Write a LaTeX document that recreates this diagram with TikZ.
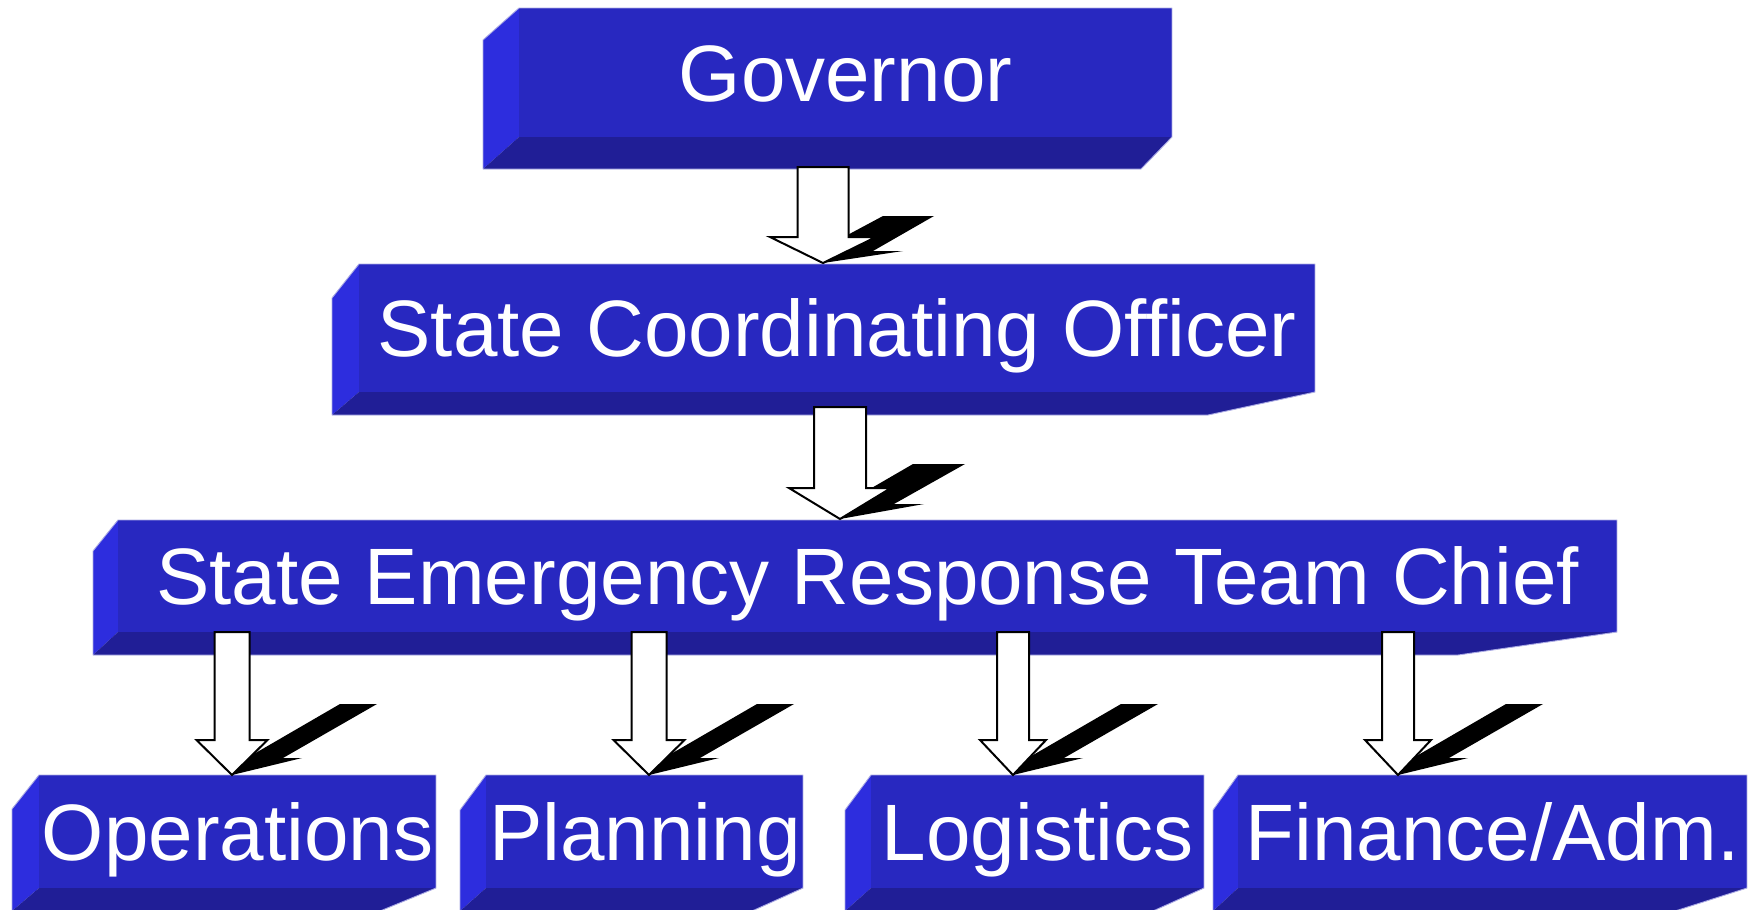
\documentclass[tikz,border=0pt]{standalone}
\usepackage{fontspec}
\setmainfont{Liberation Sans}
\definecolor{frontc}{RGB}{40,40,192}
\definecolor{leftc}{RGB}{45,45,222}
\definecolor{bottomc}{RGB}{32,30,150}
\definecolor{edgec}{RGB}{170,170,228}
% #1 L, #2 LF, #3 R, #4 T, #5 left-edge top, #6 front bottom, #7 bottom, #8 bottom-right end
\newcommand\BevBox[8]{%
  \fill[leftc] (#1,#5) -- (#2,#4) -- (#2,#6) -- (#1,#7) -- cycle;
  \fill[frontc] (#2,#4) rectangle (#3,#6);
  \fill[bottomc] (#1,#7) -- (#2,#6) -- (#3,#6) -- (#8,#7) -- cycle;
  \draw[boxedge] (#1,#5) -- (#2,#4) -- (#3,#4) -- (#3,#6) -- (#8,#7) -- (#1,#7) -- cycle;
}
\tikzset{
  boxedge/.style={draw=edgec, line width=0.9pt, line join=round},
  lbl/.style={text=white, inner sep=0pt, outer sep=0pt, font=\fontsize{80}{96}\selectfont,
    text height=57.3pt, text depth=0pt, anchor=center},
  arrline/.style={draw=black, fill=white, line width=2pt, line join=miter},
  boltfill/.style={fill=black},
  pics/downarr/.style n args={4}{code={
    \path[arrline] (-#2,-#1) -- (#2,-#1) -- (#2,-#4) -- (#3,-#4) -- (0,0) -- (-#3,-#4) -- (-#2,-#4) -- cycle;
  }},
  % #1,#2 hidden vertex; #3,#4 top edge x; #5 top y; #6,#7 notch x; #8 notch y
  pics/bolt/.style n args={8}{code={
    \path[boltfill] (0,0) -- (#1,#2) -- (#3,#5) -- (#4,#5) -- (#6,#8) -- (#7,#8) -- cycle;
  }},
}
\begin{document}
\begin{tikzpicture}[x=1pt, y=-1pt]
\useasboundingbox (0,0) rectangle (1756,910);
% boxes
\BevBox{483}{519}{1172}{8}{40}{137}{169}{1141}
\BevBox{332}{359}{1315}{264}{298}{392}{415}{1208}
\BevBox{93}{118}{1617}{520}{551}{632}{655}{1458}
\BevBox{12}{39}{436}{775}{809}{888}{911}{380}
\BevBox{460}{486}{803}{775}{810}{888}{911}{752}
\BevBox{845}{871}{1204}{775}{810}{888}{911}{1153}
\BevBox{1213}{1238}{1747}{775}{810}{888}{911}{1675}
% labels
\node[lbl] (gov)  at (845.5,72.5) {Governor};
\node[lbl] (sco)  at (837,328) {State Coordinating Officer};
\node[lbl] (sert) at (867.5,576) {State Emergency Response Team Chief};
\node[lbl] (ops)  at (237.5,831.5) {Operations};
\node[lbl] (plan) at (645,831.5) {Planning};
\node[lbl] (log)  at (1037.5,831.5) {Logistics};
\node[lbl] (fin)  at (1492.5,831.5) {Finance/Adm.};
% arrow tips
\coordinate (t1) at (823,263);
\coordinate (t2) at (840,519);
\coordinate (t3) at (232,775);
\coordinate (t4) at (649,775);
\coordinate (t5) at (1013,775);
\coordinate (t6) at (1398,775);
% bolts
\pic at (t1) {bolt={-11}{-9}{60}{111}{-47}{50}{80}{-12}};
\pic at (t2) {bolt={-8}{-8}{73}{125}{-55}{54}{84}{-15}};
\pic at (t3) {bolt={-4}{-6}{108}{145}{-71}{51}{70}{-17}};
\pic at (t4) {bolt={-4}{-6}{108}{145}{-71}{51}{70}{-17}};
\pic at (t5) {bolt={-4}{-6}{108}{145}{-71}{51}{70}{-17}};
\pic at (t6) {bolt={-4}{-6}{108}{145}{-71}{51}{70}{-17}};
% block arrows
\pic at (t1) {downarr={96}{25.5}{53}{26}};
\pic at (t2) {downarr={112}{26}{51}{31}};
\pic at (t3) {downarr={143}{17.5}{35.5}{35}};
\pic at (t4) {downarr={143}{17.5}{35.5}{35}};
\pic at (t5) {downarr={143}{16}{33}{35}};
\pic at (t6) {downarr={143}{16}{33}{35}};
\end{tikzpicture}
\end{document}
